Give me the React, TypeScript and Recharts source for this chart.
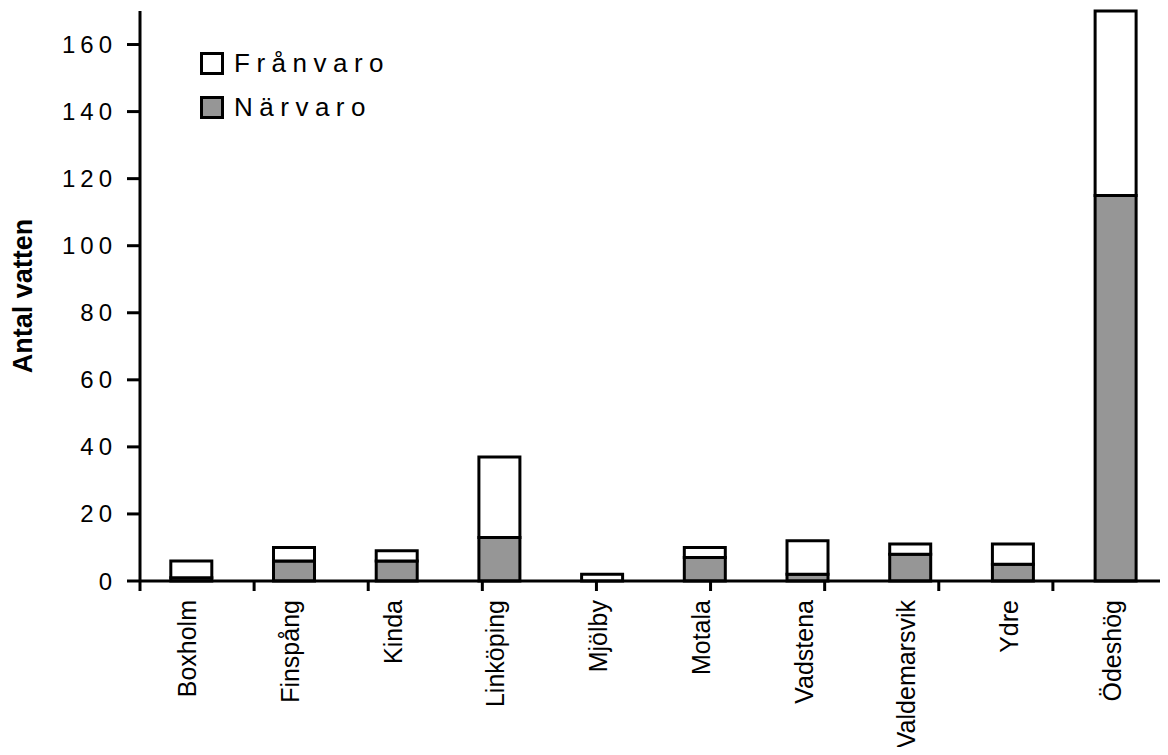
import React from "react";
import { BarChart, Bar, XAxis, YAxis } from "recharts";

const kommuner = [
  "Boxholm",
  "Finspång",
  "Kinda",
  "Linköping",
  "Mjölby",
  "Motala",
  "Vadstena",
  "Valdemarsvik",
  "Ydre",
  "Ödeshög",
];
const narvaro = [1, 6, 6, 13, 0, 7, 2, 8, 5, 115];
const franvaro = [5, 4, 3, 24, 2, 3, 10, 3, 6, 55];
const yTicks = [0, 20, 40, 60, 80, 100, 120, 140, 160];
const boundaryTicks = [0, 1, 2, 3, 4, 5, 6, 7, 8, 9, 10];

const data = kommuner.map((name, i) => ({
  name,
  narvaro: narvaro[i],
  franvaro: franvaro[i],
}));

const FONT = "Arial, 'Liberation Sans', sans-serif";

const CategoryTick = ({ x, y, payload }: any) => (
  <text
    x={x}
    y={y}
    dy={5}
    transform={`rotate(-90, ${x}, ${y})`}
    textAnchor="end"
    fontFamily={FONT}
    fontSize={25}
    fill="#000"
  >
    {payload.value}
  </text>
);

const YTitle = ({ viewBox }: any) => (
  <text
    x={viewBox.x + 24}
    y={viewBox.y + viewBox.height / 2}
    transform={`rotate(-90, ${viewBox.x + 24}, ${viewBox.y + viewBox.height / 2})`}
    textAnchor="middle"
    fontFamily={FONT}
    fontSize={27}
    fontWeight="bold"
    fill="#000"
  >
    Antal vatten
  </text>
);

// legend order as in the picture: Frånvaro on top
const legendItems = [
  { label: "Frånvaro", color: "#ffffff" },
  { label: "Närvaro", color: "#969696" },
];

const ChartLegend = () => (
  <div
    style={{
      position: "absolute",
      top: 33,
      left: 192,
      fontFamily: FONT,
    }}
  >
    {legendItems.map((item) => (
      <div
        key={item.label}
        style={{ display: "flex", alignItems: "center", height: 44 }}
      >
        <span
          style={{
            display: "inline-block",
            width: 18,
            height: 17,
            background: item.color,
            border: "3px solid #000",
            marginRight: 10,
          }}
        />
        <span style={{ fontSize: 26, letterSpacing: 6.5, color: "#000" }}>
          {item.label}
        </span>
      </div>
    ))}
  </div>
);

export default function App() {
  return (
    <div style={{ position: "relative", width: 1160, height: 739 }}>
      <BarChart
        width={1160}
        height={739}
        data={data}
        margin={{ top: 3, right: 1, bottom: 164, left: 0 }}
        barCategoryGap="30%"
      >
        <XAxis
          dataKey="name"
          height={1}
          interval={0}
          tickLine={false}
          axisLine={{ stroke: "#000", strokeWidth: 3 }}
          tickSize={9}
          tickMargin={10}
          tick={<CategoryTick />}
        />
        <XAxis
          xAxisId="bounds"
          type="number"
          domain={[0, 10]}
          ticks={boundaryTicks}
          interval={0}
          height={1}
          axisLine={false}
          tickLine={{ stroke: "#000", strokeWidth: 3 }}
          tickSize={9}
          tick={() => <g />}
        />
        <YAxis
          width={132}
          domain={[0, 170]}
          ticks={yTicks}
          interval={0}
          axisLine={{ stroke: "#000", strokeWidth: 3 }}
          tickLine={{ stroke: "#000", strokeWidth: 3 }}
          tickSize={13}
          tickMargin={10}
          tick={{
            fill: "#000",
            fontSize: 24,
            fontFamily: FONT,
            letterSpacing: 5,
          }}
          label={<YTitle />}
        />
        <Bar
          dataKey="narvaro"
          name="Närvaro"
          stackId="a"
          fill="#969696"
          stroke="#000"
          strokeWidth={3}
          isAnimationActive={false}
        />
        <Bar
          dataKey="franvaro"
          name="Frånvaro"
          stackId="a"
          fill="#ffffff"
          stroke="#000"
          strokeWidth={3}
          isAnimationActive={false}
        />
      </BarChart>
      <ChartLegend />
    </div>
  );
}
